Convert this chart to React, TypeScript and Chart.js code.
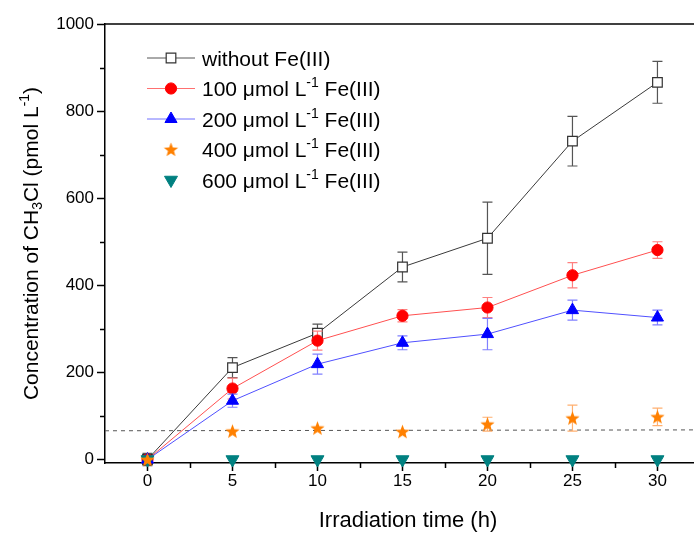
import { useEffect, useRef } from 'react';
import { Chart, registerables } from 'chart.js';

Chart.register(...registerables);

// ---------- data ----------
const times = [0, 5, 10, 15, 20, 25, 30];
const withoutFe = [0, 211, 290, 442, 508, 731, 866];
const withoutFeErr = [14, 23, 21, 34, 83, 57, 48];
const fe100 = [0, 163, 273, 330, 349, 423, 481];
const fe100Err = [5, 24, 22, 14, 23, 29, 19];
const fe200 = [0, 135, 219, 268, 288, 343, 326];
const fe200Err = [5, 15, 23, 16, 36, 23, 17];
const fe400 = [0, 65, 72, 64, 81, 95, 98];
const fe400Err = [0, 0, 0, 0, 16, 30, 20];
const fe600 = [0, 0, 0, 0, 0, 0, 0];
const baselineX = [-2.5, 32.15];
const baselineY = [66, 68];
const seriesNames = [
  'without Fe(III)',
  '100 μmol L⁻¹ Fe(III)',
  '200 μmol L⁻¹ Fe(III)',
  '400 μmol L⁻¹ Fe(III)',
  '600 μmol L⁻¹ Fe(III)',
];
const xTicks = [0, 5, 10, 15, 20, 25, 30];
const xMinorTicks = [2.5, 7.5, 12.5, 17.5, 22.5, 27.5];
const yTicks = [0, 200, 400, 600, 800, 1000];
const yMinorTicks = [100, 300, 500, 700, 900];
const xTitle = 'Irradiation time (h)';
const yTitle = 'Concentration of CH₃Cl (pmol L⁻¹)';

const FONT = 'Arial, "Liberation Sans", sans-serif';

function makeStar(color: string, outer: number, inner: number) {
  const c = document.createElement('canvas');
  const s = Math.ceil(outer * 2 + 2);
  c.width = s;
  c.height = s;
  const g = c.getContext('2d')!;
  g.beginPath();
  for (let k = 0; k < 10; k++) {
    const r = k % 2 ? inner : outer;
    const a = -Math.PI / 2 + (k * Math.PI) / 5;
    g.lineTo(s / 2 + r * Math.cos(a), s / 2 + 0.6 + r * Math.sin(a));
  }
  g.closePath();
  g.fillStyle = color;
  g.fill();
  return c;
}

// draw text with ₃ as subscript and ⁻¹ as superscript
function richRuns(text: string) {
  const runs: { t: string; k: 'n' | 'sub' | 'sup' }[] = [];
  let i = 0;
  let buf = '';
  while (i < text.length) {
    if (text.startsWith('⁻¹', i)) {
      if (buf) runs.push({ t: buf, k: 'n' });
      buf = '';
      runs.push({ t: '-1', k: 'sup' });
      i += 2;
    } else if (text[i] === '₃') {
      if (buf) runs.push({ t: buf, k: 'n' });
      buf = '';
      runs.push({ t: '3', k: 'sub' });
      i += 1;
    } else {
      buf += text[i];
      i += 1;
    }
  }
  if (buf) runs.push({ t: buf, k: 'n' });
  return runs;
}

function richWidth(ctx: CanvasRenderingContext2D, text: string, size: number) {
  let w = 0;
  for (const r of richRuns(text)) {
    ctx.font = `${r.k === 'n' ? size : Math.round(size * 0.65)}px ${FONT}`;
    w += ctx.measureText(r.t).width;
  }
  return w;
}

function drawRich(ctx: CanvasRenderingContext2D, text: string, x: number, y: number, size: number) {
  ctx.textBaseline = 'alphabetic';
  ctx.textAlign = 'left';
  let cx = x;
  const base = y + size * 0.36;
  for (const r of richRuns(text)) {
    const s = r.k === 'n' ? size : Math.round(size * 0.65);
    ctx.font = `${s}px ${FONT}`;
    const dy = r.k === 'sup' ? -size * 0.42 : r.k === 'sub' ? size * 0.22 : 0;
    ctx.fillText(r.t, cx, base + dy);
    cx += ctx.measureText(r.t).width;
  }
}

function drawMarker(ctx: CanvasRenderingContext2D, ds: any, x: number, y: number) {
  const r = ds.pointRadius;
  const style = ds.pointStyle;
  ctx.save();
  ctx.fillStyle = ds.pointBackgroundColor;
  ctx.strokeStyle = ds.pointBorderColor;
  ctx.lineWidth = ds.pointBorderWidth || 1;
  if (style instanceof HTMLCanvasElement) {
    ctx.drawImage(style, x - style.width / 2, y - style.height / 2);
  } else if (style === 'rect') {
    const s = Math.SQRT1_2 * r;
    ctx.beginPath();
    ctx.rect(x - s, y - s, 2 * s, 2 * s);
    ctx.fill();
    ctx.stroke();
  } else if (style === 'circle') {
    ctx.beginPath();
    ctx.arc(x, y, r, 0, Math.PI * 2);
    ctx.fill();
    ctx.stroke();
  } else if (style === 'triangle') {
    const rot = ((ds.pointRotation || 0) * Math.PI) / 180;
    ctx.beginPath();
    for (let k = 0; k < 3; k++) {
      const a = rot + (k * 2 * Math.PI) / 3;
      ctx.lineTo(x + Math.sin(a) * r, y - Math.cos(a) * r);
    }
    ctx.closePath();
    ctx.fill();
    ctx.stroke();
  }
  ctx.restore();
}

const errorBarPlugin = {
  id: 'errorBars',
  beforeDatasetDraw(chart: any, args: any) {
    const ds = chart.data.datasets[args.index];
    if (!ds.errors) return;
    const xs = chart.scales.x;
    const ys = chart.scales.y;
    const ctx = chart.ctx as CanvasRenderingContext2D;
    ctx.save();
    ctx.strokeStyle = ds.errorColor;
    ctx.lineWidth = 1.2;
    ds.data.forEach((p: any, i: number) => {
      const e = ds.errors[i];
      if (!e) return;
      const px = xs.getPixelForValue(p.x);
      const top = ys.getPixelForValue(p.y + e);
      const bot = ys.getPixelForValue(p.y - e);
      ctx.beginPath();
      ctx.moveTo(px, top);
      ctx.lineTo(px, bot);
      ctx.moveTo(px - 5, top);
      ctx.lineTo(px + 5, top);
      ctx.moveTo(px - 5, bot);
      ctx.lineTo(px + 5, bot);
      ctx.stroke();
    });
    ctx.restore();
  },
};

const decorPlugin = {
  id: 'decor',
  afterDraw(chart: any) {
    const ctx = chart.ctx as CanvasRenderingContext2D;
    const area = chart.chartArea;
    const xs = chart.scales.x;
    const ys = chart.scales.y;
    ctx.save();
    // top border
    ctx.strokeStyle = '#000';
    ctx.lineWidth = 1.5;
    ctx.beginPath();
    ctx.moveTo(area.left, area.top);
    ctx.lineTo(area.right, area.top);
    ctx.stroke();
    // minor ticks
    ctx.beginPath();
    for (const v of yMinorTicks) {
      const py = Math.round(ys.getPixelForValue(v)) + 0.5;
      ctx.moveTo(area.left, py);
      ctx.lineTo(area.left - 5, py);
    }
    for (const v of xMinorTicks) {
      const px = Math.round(xs.getPixelForValue(v)) + 0.5;
      ctx.moveTo(px, area.bottom);
      ctx.lineTo(px, area.bottom + 5);
    }
    ctx.stroke();

    // x title (axis continues past the cropped right edge, so centred a bit right)
    ctx.fillStyle = '#000';
    ctx.font = `22px ${FONT}`;
    ctx.textAlign = 'center';
    ctx.textBaseline = 'middle';
    ctx.fillText(xTitle, 408, 521);

    // y title
    const ySize = 21;
    const w = richWidth(ctx, yTitle, ySize);
    ctx.save();
    ctx.translate(30, (area.top + area.bottom) / 2);
    ctx.rotate(-Math.PI / 2);
    drawRich(ctx, yTitle, -w / 2, 0, ySize);
    ctx.restore();

    // legend
    const rowY0 = area.top + 34;
    const rowGap = 30.5;
    const lx0 = 147;
    const lx1 = 195;
    const mx = 171;
    const tx = 202;
    let row = 0;
    chart.data.datasets.forEach((ds: any) => {
      if (!ds.inLegend) return;
      const y = rowY0 + row * rowGap;
      if (ds.showLine) {
        ctx.strokeStyle = ds.legendLineColor || ds.borderColor;
        ctx.lineWidth = 1;
        ctx.beginPath();
        ctx.moveTo(lx0, y);
        ctx.lineTo(lx1, y);
        ctx.stroke();
      }
      drawMarker(ctx, ds, mx, y);
      ctx.fillStyle = '#000';
      drawRich(ctx, ds.label, tx, y, 21);
      row++;
    });
    ctx.restore();
  },
};

export default function App() {
  const ref = useRef<HTMLCanvasElement>(null);
  useEffect(() => {
    document.body.style.margin = '0';
    document.body.style.overflow = 'hidden';
    const star = makeStar('#ff8000', 7.5, 3.2);
    const pts = (ys: number[]) => times.map((t, i) => ({ x: t, y: ys[i] }));
    const axisGrid = {
      drawOnChartArea: false,
      drawTicks: true,
      tickLength: 8,
      tickWidth: 1.5,
      tickColor: '#000',
    };
    const chart = new Chart(ref.current!, {
      type: 'line',
      data: {
        datasets: [
          {
            label: 'baseline',
            data: baselineX.map((x, i) => ({ x, y: baselineY[i] })),
            borderColor: '#555',
            borderWidth: 1,
            borderDash: [4, 4],
            pointRadius: 0,
            showLine: true,
            order: 10,
            clip: false,
          } as any,
          {
            label: seriesNames[0],
            data: pts(withoutFe),
            showLine: true,
            borderColor: '#3a3a3a',
            borderWidth: 1,
            pointStyle: 'rect',
            pointRadius: 6.8,
            pointBackgroundColor: '#fff',
            pointBorderColor: '#333',
            pointBorderWidth: 1.2,
            errors: withoutFeErr,
            errorColor: '#555',
            legendLineColor: '#555',
            inLegend: true,
            order: 5,
            clip: false,
          } as any,
          {
            label: seriesNames[1],
            data: pts(fe100),
            showLine: true,
            borderColor: '#ff5050',
            borderWidth: 1,
            pointStyle: 'circle',
            pointRadius: 5.6,
            pointBackgroundColor: '#ff0000',
            pointBorderColor: '#ff0000',
            pointBorderWidth: 1,
            errors: fe100Err,
            errorColor: '#ff8080',
            legendLineColor: '#ff7070',
            inLegend: true,
            order: 4,
            clip: false,
          } as any,
          {
            label: seriesNames[2],
            data: pts(fe200),
            showLine: true,
            borderColor: '#5050ff',
            borderWidth: 1,
            pointStyle: 'triangle',
            pointRadius: 7,
            pointBackgroundColor: '#0000ff',
            pointBorderColor: '#0000ff',
            pointBorderWidth: 1,
            errors: fe200Err,
            errorColor: '#8080ff',
            legendLineColor: '#7070ff',
            inLegend: true,
            order: 3,
            clip: false,
          } as any,
          {
            label: seriesNames[3],
            data: pts(fe400),
            showLine: false,
            pointStyle: star,
            pointRadius: 7,
            pointBackgroundColor: '#ff8000',
            pointBorderColor: '#ff8000',
            errors: fe400Err,
            errorColor: '#ffb070',
            inLegend: true,
            order: 1,
            clip: false,
          } as any,
          {
            label: seriesNames[4],
            data: pts(fe600),
            showLine: false,
            pointStyle: 'triangle',
            pointRotation: 180,
            pointRadius: 7.5,
            pointBackgroundColor: '#008080',
            pointBorderColor: '#008080',
            pointBorderWidth: 1,
            inLegend: true,
            order: 2,
            clip: false,
          } as any,
        ],
      },
      options: {
        animation: false,
        responsive: false,
        devicePixelRatio: 1,
        layout: { autoPadding: false, padding: { top: 24, right: 0, left: 0, bottom: 0 } },
        plugins: {
          legend: { display: false },
          tooltip: { enabled: false },
        },
        events: [],
        scales: {
          x: {
            type: 'linear',
            min: -2.5,
            max: 32.15,
            afterBuildTicks: (axis: any) => {
              axis.ticks = xTicks.map((v) => ({ value: v }));
            },
            afterFit: (axis: any) => {
              axis.height = 70;
              axis.paddingLeft = 0;
              axis.paddingRight = 0;
            },
            grid: axisGrid,
            border: { color: '#000', width: 1.5 },
            ticks: {
              font: { family: FONT, size: 17 },
              color: '#000',
              padding: 0,
              maxRotation: 0,
              autoSkip: false,
              callback: (v: any) => String(v),
            },
            title: { display: false },
          },
          y: {
            type: 'linear',
            min: -8,
            max: 1000,
            afterBuildTicks: (axis: any) => {
              axis.ticks = yTicks.map((v) => ({ value: v }));
            },
            afterFit: (axis: any) => {
              axis.width = 105;
              axis.paddingTop = 0;
              axis.paddingBottom = 0;
            },
            grid: axisGrid,
            border: { color: '#000', width: 1.5 },
            ticks: {
              font: { family: FONT, size: 17 },
              color: '#000',
              padding: 3,
              callback: (v: any) => String(v),
            },
          },
        },
      } as any,
      plugins: [errorBarPlugin, decorPlugin],
    });
    return () => chart.destroy();
  }, []);
  return (
    <div style={{ width: 694, height: 533, position: 'relative' }}>
      <canvas ref={ref} width={694} height={533} style={{ display: 'block' }} />
    </div>
  );
}
